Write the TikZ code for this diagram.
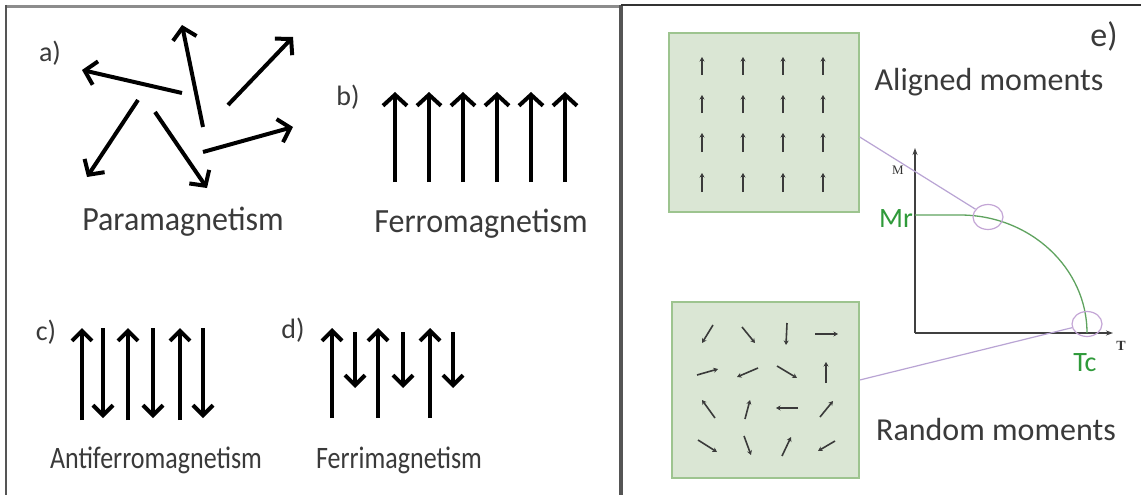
\documentclass[tikz,border=0pt]{standalone}
\usepackage{fontspec}
\setmainfont{Carlito}
\newfontfamily\serifm{Liberation Serif}
\usetikzlibrary{arrows.meta,shapes.geometric}
\definecolor{txt}{HTML}{3A3A3A}
\definecolor{boxfill}{HTML}{DAE6D4}
\definecolor{boxline}{HTML}{9DC48F}
\definecolor{purp}{HTML}{B9A4D4}
\definecolor{ringc}{HTML}{C4A6D6}
\definecolor{crv}{HTML}{5FA35F}
\definecolor{grtxt}{HTML}{2F9A3A}
\definecolor{frameg}{HTML}{8C8C8C}
\definecolor{framed}{HTML}{555555}
\begin{document}
\begin{tikzpicture}[x=1pt,y=-1pt,
  big/.style={line width=4pt, black, -{Straight Barb[length=11pt,width=24pt]}},
  mid/.style={line width=4pt, black, -{Straight Barb[length=10pt,width=20pt]}},
  sm/.style={line width=1.6pt, txt, -{Stealth[length=4.5pt,width=5pt]}},
  lbl/.style={inner sep=0pt, text=txt, font=\fontsize{32}{38}\selectfont},
  lbls/.style={inner sep=0pt, text=txt, font=\fontsize{26}{31}\selectfont},
  tag/.style={inner sep=0pt, text=txt, font=\fontsize{28}{33}\selectfont},
  mbox/.style={draw=boxline, fill=boxfill, line width=1.5pt, inner sep=0pt},
  ring/.style={draw=ringc, line width=1.2pt, ellipse, minimum width=30pt, minimum height=25pt, inner sep=0pt},
  purpline/.style={draw=purp, line width=1.2pt},
  grn/.style={draw=crv, line width=1.3pt},
  axis/.style={line width=1.3pt, draw=black!75, -{Stealth[length=7pt,width=5pt]}}]
\useasboundingbox (0,0) rectangle (1141,495);
\fill[white] (0,0) rectangle (1141,495);
% frame
\draw[line width=3pt, frameg] (5,6.5) -- (620,6.5);
\draw[line width=2pt, framed] (6,5) -- (6,495);
\draw[line width=3.5pt, framed] (621,5) -- (621,495);
\draw[line width=2pt, black!80] (621,5) -- (1141,5);
% panel a
\node[tag] (la) at (50,53) {a)};
\draw[big] (182,93) -- (82,70);
\draw[big] (203,127) -- (182,25);
\draw[big] (228,105) -- (293,37);
\draw[big] (203,152) -- (293,127);
\draw[big] (155,112) -- (207,188);
\draw[big] (138,100) -- (87,177);
\node[lbl] (tpara) at (183,222) {\scalebox{1}[1.06]{Paramagnetism}};
% panel b
\node[tag] (lb) at (348,97) {b)};
\foreach \x in {395,429,463,497,531,565} \draw[big] (\x,182) -- (\x,92);
\node[lbl] (tferro) at (481,224) {\scalebox{1}[1.06]{Ferromagnetism}};
% panel c
\node[tag] (lc) at (46,332) {c)};
\foreach \x in {82,128,180} \draw[mid] (\x,420) -- (\x,328);
\foreach \x in {103,153,203} \draw[mid] (\x,328) -- (\x,418);
\node[lbls] (tanti) at (156,460) {\scalebox{1}[1.2]{Antiferromagnetism}};
% panel d
\node[tag] (ld) at (293,330) {d)};
\foreach \x in {332,378,430} \draw[mid] (\x,418) -- (\x,328);
\foreach \x in {355,403,453} \draw[mid] (\x,332) -- (\x,388);
\node[lbls] (tferri) at (399,460) {\scalebox{1}[1.2]{Ferrimagnetism}};
% panel e
\node[inner sep=0pt, text=txt, font=\fontsize{34}{40}\selectfont] (le) at (1104,36) {e)};
\node[mbox, minimum width=190pt, minimum height=179pt] (abox) at (764,122.5) {};
\node[mbox, minimum width=187pt, minimum height=176pt] (rbox) at (765.5,390) {};
\foreach \x in {702,743,783,823}{
  \draw[sm] (\x,75) -- (\x,57);
  \draw[sm] (\x,113) -- (\x,95);
  \draw[sm] (\x,152) -- (\x,133);
  \draw[sm] (\x,192) -- (\x,173);
}
% random moments
\draw[sm] (713,325) -- (702,343);
\draw[sm] (742,327) -- (755,343);
\draw[sm] (787,323) -- (786,345);
\draw[sm] (815,334) -- (838,334);
\draw[sm] (697,375) -- (718,369);
\draw[sm] (758,368) -- (737,377);
\draw[sm] (777,366) -- (797,378);
\draw[sm] (826,383) -- (826,362);
\draw[sm] (715,418) -- (702,400);
\draw[sm] (745,419) -- (750,400);
\draw[sm] (798,408) -- (776,408);
\draw[sm] (820,417) -- (833,401);
\draw[sm] (698,440) -- (717,452);
\draw[sm] (744,436) -- (751,455);
\draw[sm] (782,456) -- (791,437);
\draw[sm] (835,441) -- (818,451);
\node[lbl] (talign) at (989,82) {Aligned moments};
\node[lbl] (trand) at (996,430) {Random moments};
% graph
\coordinate (o) at (915,333);
\draw[axis] (o) -- (915,148);
\draw[axis] (o) -- (1113,333);
\node[inner sep=0pt, text=black!80, font=\serifm\fontsize{13}{15}\selectfont] (ml) at (898,170) {M};
\node[inner sep=0pt, text=black!80, font=\serifm\bfseries\fontsize{14}{16}\selectfont] (tl) at (1121,346) {T};
\draw[grn] (915,215) -- (960,215) .. controls (1030,215) and (1087,268) .. (1087,333);
\node[ring] (c1) at (988,217) {};
\node[ring] (c2) at (1087,324) {};
\draw[purpline] ([yshift=-14.5pt]abox.east) -- (c1);
\draw[purpline] ([yshift=10pt]rbox.east) -- (c2);
\node[inner sep=0pt, text=grtxt, font=\fontsize{28}{33}\selectfont, anchor=east] (mr) at (913,219) {Mr};
\node[inner sep=0pt, text=grtxt, font=\fontsize{28}{33}\selectfont] (tc) at (1085,363) {Tc};
\end{tikzpicture}
\end{document}
